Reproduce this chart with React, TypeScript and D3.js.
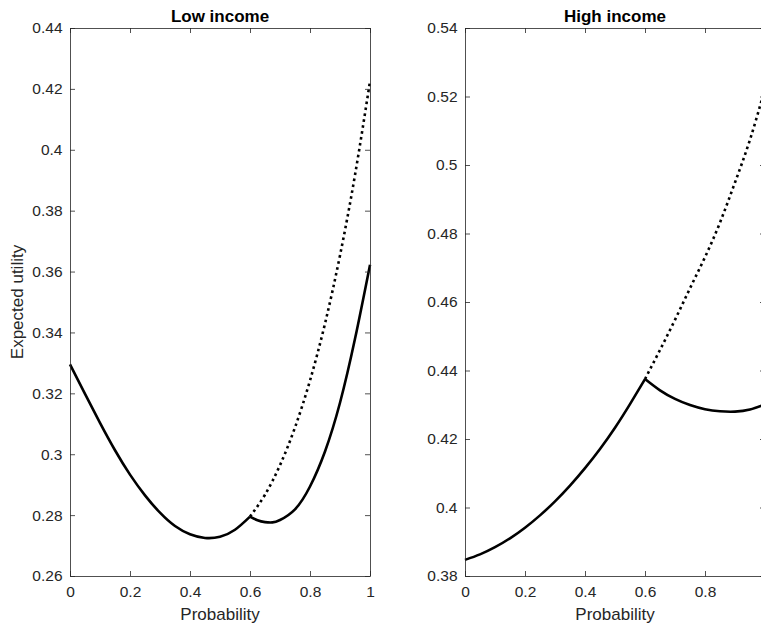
import React, { useEffect, useRef } from 'react'
import * as d3 from 'd3'

// probability grid (x) used by the series
const probLeft = [0, 0.05, 0.1, 0.15, 0.2, 0.25, 0.3, 0.35, 0.4, 0.45, 0.5, 0.55, 0.6]
const probKink = [0.6, 0.625, 0.65, 0.675, 0.7, 0.75, 0.8, 0.85, 0.9, 0.95, 1]
const probTail = [0.6, 0.65, 0.7, 0.75, 0.8, 0.85, 0.9, 0.95, 1]

// Low income
const lowSolidA = [0.3295, 0.3198, 0.3103, 0.3013, 0.2933, 0.2865, 0.2808, 0.2764, 0.2737, 0.2725, 0.2729, 0.2752, 0.2795]
const lowSolidB = [0.2795, 0.2783, 0.2777, 0.2776, 0.2784, 0.2819, 0.2894, 0.3009, 0.3169, 0.3379, 0.3622]
const lowDotted = [0.2795, 0.2867, 0.2964, 0.3088, 0.3242, 0.3429, 0.3653, 0.3917, 0.4225]

// High income
const highSolidA = [0.3847, 0.3863, 0.3884, 0.3910, 0.3941, 0.3977, 0.4018, 0.4064, 0.4115, 0.4171, 0.4233, 0.4302, 0.4375]
const highSolidB = [0.4375, 0.4342, 0.4317, 0.4299, 0.4287, 0.4281, 0.4280, 0.4286, 0.4301]
const highDotted = [0.4375, 0.4460, 0.4548, 0.4640, 0.4731, 0.4832, 0.4949, 0.5074, 0.5224]

const xTicks = [0, 0.2, 0.4, 0.6, 0.8, 1]
const lowTicks = [0.26, 0.28, 0.3, 0.32, 0.34, 0.36, 0.38, 0.4, 0.42, 0.44]
const highTicks = [0.38, 0.4, 0.42, 0.44, 0.46, 0.48, 0.5, 0.52, 0.54]

const panels = [
  {
    title: 'Low income', left: 70, domain: [0.26, 0.44], ticks: lowTicks, ylabel: 'Expected utility', lastX: true,
    series: [
      { p: probLeft, v: lowSolidA, dotted: false },
      { p: probTail, v: lowDotted, dotted: true },
      { p: probKink, v: lowSolidB, dotted: false },
    ],
  },
  {
    // the right edge (x = 1) falls just outside the picture
    title: 'High income', left: 465, domain: [0.38, 0.54], ticks: highTicks, ylabel: '', lastX: false,
    series: [
      { p: probLeft, v: highSolidA, dotted: false },
      { p: probTail, v: highDotted, dotted: true },
      { p: probTail, v: highSolidB, dotted: false },
    ],
  },
]

const W = 761, H = 629
const TOP = 28, BOTTOM = 576, PW = 300
const FONT = 'Liberation Sans, Arial, Helvetica, sans-serif'
const AX = '#262626'

const fmt = (d: number) => String(+d.toFixed(2))

export default function App() {
  const ref = useRef<SVGSVGElement | null>(null)

  useEffect(() => {
    const svg = d3.select(ref.current)
    svg.selectAll('*').remove()

    panels.forEach(panel => {
      const x = d3.scaleLinear([0, 1], [panel.left, panel.left + PW])
      const y = d3.scaleLinear(panel.domain, [BOTTOM, TOP])
      const g = svg.append('g')

      // curves
      const line = d3.line<[number, number]>()
        .x(d => x(d[0]))
        .y(d => y(d[1]))
        .curve(d3.curveNatural)
      panel.series.forEach(s => {
        const pts: [number, number][] = s.p.map((p, i) => [p, s.v[i]])
        g.append('path')
          .attr('d', line(pts))
          .attr('fill', 'none')
          .attr('stroke', '#000')
          .attr('stroke-width', 2.6)
          .attr('stroke-dasharray', s.dotted ? '2.6 3.4' : null)
      })

      // axes, ticks pointing inward (box on)
      const axStyle = (a: d3.Selection<SVGGElement, unknown, null, undefined>) => {
        a.select('.domain').remove()
        a.selectAll('line').attr('stroke', AX).attr('stroke-width', 0.8)
        a.selectAll('text').attr('fill', AX).style('font-family', FONT).style('font-size', '15.5px')
      }
      const xFmt = (d: d3.NumberValue) => (!panel.lastX && +d === 1 ? '' : fmt(+d))
      g.append('g').attr('transform', `translate(0,${BOTTOM})`)
        .call(d3.axisBottom(x).tickValues(xTicks).tickFormat(xFmt).tickSize(-5).tickPadding(10))
        .call(axStyle)
      g.append('g').attr('transform', `translate(0,${TOP})`)
        .call(d3.axisTop(x).tickValues(xTicks).tickFormat(() => '').tickSize(-5))
        .call(axStyle)
      g.append('g').attr('transform', `translate(${panel.left},0)`)
        .call(d3.axisLeft(y).tickValues(panel.ticks).tickFormat(d => fmt(+d)).tickSize(-5).tickPadding(7.5))
        .call(axStyle)
      g.append('g').attr('transform', `translate(${panel.left + PW},0)`)
        .call(d3.axisRight(y).tickValues(panel.ticks).tickFormat(() => '').tickSize(-5))
        .call(axStyle)

      g.append('rect')
        .attr('x', panel.left + 0.5).attr('y', TOP + 0.5)
        .attr('width', PW).attr('height', BOTTOM - TOP)
        .attr('fill', 'none').attr('stroke', AX).attr('stroke-width', 0.8)

      // title and labels
      g.append('text')
        .attr('x', panel.left + PW / 2).attr('y', 21.5)
        .attr('text-anchor', 'middle')
        .style('font-family', FONT).style('font-size', '17px').style('font-weight', 'bold')
        .attr('fill', '#000')
        .text(panel.title)
      g.append('text')
        .attr('x', panel.left + PW / 2).attr('y', 620)
        .attr('text-anchor', 'middle')
        .style('font-family', FONT).style('font-size', '17px')
        .attr('fill', AX)
        .text('Probability')
      if (panel.ylabel) {
        g.append('text')
          .attr('transform', `translate(23,${(TOP + BOTTOM) / 2}) rotate(-90)`)
          .attr('text-anchor', 'middle')
          .style('font-family', FONT).style('font-size', '17px')
          .attr('fill', AX)
          .text(panel.ylabel)
      }
    })
  }, [])

  return (
    <div style={{ position: 'absolute', left: 0, top: 0 }}>
      <svg ref={ref} width={W} height={H} style={{ display: 'block', background: '#fff' }} />
    </div>
  )
}
